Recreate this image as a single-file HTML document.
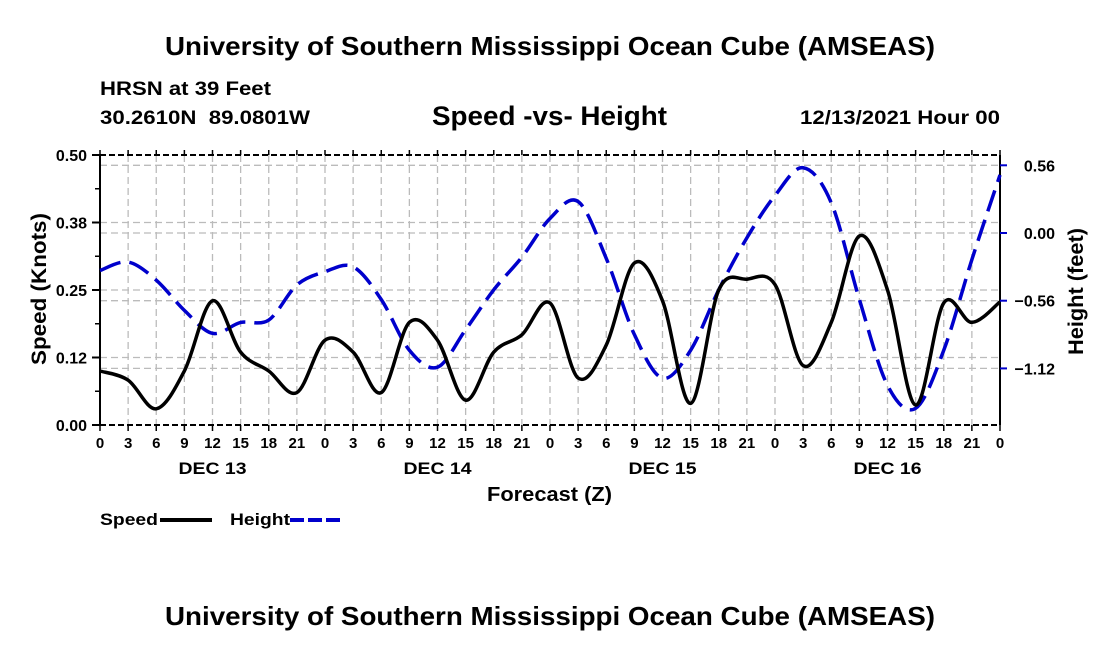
<!DOCTYPE html>
<html><head><meta charset="utf-8"><style>
body{margin:0;background:#fff;font-family:"Liberation Sans",Arial,sans-serif;}
svg text{font-family:"Liberation Sans",Arial,sans-serif;font-weight:bold;fill:#000;}
</style></head><body>
<svg id="chart" width="1100" height="650" viewBox="0 0 1100 650">
<text x="165" y="55" font-size="26" textLength="770" lengthAdjust="spacingAndGlyphs">University of Southern Mississippi Ocean Cube (AMSEAS)</text>
<text x="100" y="95" font-size="19" textLength="171" lengthAdjust="spacingAndGlyphs">HRSN at 39 Feet</text>
<text x="100" y="124" font-size="19" textLength="210" lengthAdjust="spacingAndGlyphs" xml:space="preserve">30.2610N  89.0801W</text>
<text x="432" y="125" font-size="27" textLength="235" lengthAdjust="spacingAndGlyphs">Speed -vs- Height</text>
<text x="800" y="124" font-size="19" textLength="200" lengthAdjust="spacingAndGlyphs">12/13/2021 Hour 00</text>
<g id="grid"></g>
<g id="axes"></g>
<g id="series"></g>
<text x="487" y="501" font-size="20" textLength="125" lengthAdjust="spacingAndGlyphs">Forecast (Z)</text>
<text transform="translate(46,365) rotate(-90)" font-size="21" textLength="152" lengthAdjust="spacingAndGlyphs">Speed (Knots)</text>
<text transform="translate(1083,355) rotate(-90)" font-size="21" textLength="127" lengthAdjust="spacingAndGlyphs">Height (feet)</text>
<g>
<text x="100" y="525" font-size="17" textLength="58" lengthAdjust="spacingAndGlyphs">Speed</text>
<line x1="160" y1="520" x2="212" y2="520" stroke="#000" stroke-width="4"/>
</g>
<g>
<text x="230" y="525" font-size="17" textLength="60" lengthAdjust="spacingAndGlyphs">Height</text>
<line x1="290" y1="520" x2="342" y2="520" stroke="#0000cc" stroke-width="4" stroke-dasharray="14,4"/>
</g>
<text x="165" y="625" font-size="26" textLength="770" lengthAdjust="spacingAndGlyphs">University of Southern Mississippi Ocean Cube (AMSEAS)</text>
</svg>
<script>
const hours=[0,3,6,9,12,15,18,21,24,27,30,33,36,39,42,45,48,51,54,57,60,63,66,69,72,75,78,81,84,87,90,93,96];
const speed=[0.10,0.083,0.03,0.10,0.23,0.135,0.10,0.06,0.157,0.135,0.06,0.19,0.157,0.046,0.135,0.167,0.226,0.087,0.148,0.30,0.23,0.04,0.25,0.27,0.26,0.11,0.19,0.35,0.25,0.037,0.226,0.19,0.228];
const height=[-0.31,-0.24,-0.39,-0.64,-0.83,-0.74,-0.72,-0.43,-0.32,-0.28,-0.55,-0.97,-1.11,-0.80,-0.47,-0.20,0.12,0.26,-0.21,-0.84,-1.20,-0.97,-0.47,-0.04,0.31,0.54,0.25,-0.55,-1.26,-1.45,-0.97,-0.22,0.48];
const leftTicks=[0,0.125,0.25,0.375,0.5];
const leftLabels=["0.00","0.12","0.25","0.38","0.50"];
const rightTicks=[0.56,0,-0.56,-1.12];
const rightLabels=["0.56","0.00","\u22120.56","\u22121.12"];
const dayLabels=["DEC 13","DEC 14","DEC 15","DEC 16"];
const dayCenters=[12,36,60,84];

const X0=100,X1=1000,Y0=425,Y1=155;
const xs=h=>X0+(h/96)*(X1-X0);
const ys=v=>Y0-(v/0.5)*(Y0-Y1);
const yh=v=>233-v*120.9;
const NS="http://www.w3.org/2000/svg";
function mk(tag,attrs,parent){const e=document.createElementNS(NS,tag);for(const k in attrs)e.setAttribute(k,attrs[k]);parent.appendChild(e);return e;}
const grid=document.getElementById('grid'),axes=document.getElementById('axes'),series=document.getElementById('series');
const gs={stroke:"#bbb","stroke-width":1.3,"stroke-dasharray":"7,4"};
hours.forEach(h=>{if(h>0&&h<96){const l=mk('line',Object.assign({x1:xs(h),x2:xs(h),y1:Y1,y2:Y0},gs),grid);

}});
leftTicks.forEach(v=>{if(v>0&&v<0.5){const l=mk('line',Object.assign({x1:X0,x2:X1,y1:ys(v),y2:ys(v)},gs),grid);

}});
rightTicks.forEach(v=>{const l=mk('line',Object.assign({x1:X0,x2:X1,y1:yh(v),y2:yh(v)},gs),grid);

});
mk('line',{x1:X0,x2:X0,y1:Y1,y2:Y0,stroke:"#000","stroke-width":2},axes);
mk('line',{x1:X1,x2:X1,y1:Y1,y2:Y0,stroke:"#000","stroke-width":2},axes);
mk('line',{x1:X0,x2:X1,y1:Y0,y2:Y0,stroke:"#000","stroke-width":2,"stroke-dasharray":"6,3"},axes);
mk('line',{x1:X0,x2:X1,y1:Y1,y2:Y1,stroke:"#000","stroke-width":2,"stroke-dasharray":"6,3"},axes);
hours.forEach(h=>{mk('line',{x1:xs(h),x2:xs(h),y1:Y0,y2:Y0+6,stroke:"#000","stroke-width":1.5},axes);
mk('line',{x1:xs(h),x2:xs(h),y1:Y1,y2:Y1-5,stroke:"#000","stroke-width":1.5},axes);
const t=mk('text',{x:xs(h),y:Y0+23,"font-size":15,"text-anchor":"middle"},axes);t.textContent=String(h%24);

});
dayLabels.forEach((d,i)=>{const t=mk('text',{x:xs(dayCenters[i]),y:Y0+49,"font-size":17,"text-anchor":"middle",textLength:68,lengthAdjust:"spacingAndGlyphs"},axes);t.textContent=d;

});
leftTicks.forEach((v,i)=>{mk('line',{x1:X0-8,x2:X0,y1:ys(v),y2:ys(v),stroke:"#000","stroke-width":2},axes);
const t=mk('text',{x:X0-13,y:ys(v)+6,"font-size":16,"text-anchor":"end"},axes);t.textContent=leftLabels[i];


if(i<4)mk('line',{x1:X0-5,x2:X0,y1:ys(v+0.0625),y2:ys(v+0.0625),stroke:"#000","stroke-width":1.5},axes);});
rightTicks.forEach((v,i)=>{mk('line',{x1:X1,x2:X1+7,y1:yh(v),y2:yh(v),stroke:"#0000cc","stroke-width":2},axes);
const t=mk('text',{x:1055,y:yh(v)+6,"font-size":16,"text-anchor":"end"},axes);t.textContent=rightLabels[i];

});
function path(pts){let d=`M${pts[0][0]},${pts[0][1]}`;for(let i=0;i<pts.length-1;i++){const p0=pts[Math.max(0,i-1)],p1=pts[i],p2=pts[i+1],p3=pts[Math.min(pts.length-1,i+2)];
d+=` C${p1[0]+(p2[0]-p0[0])/6},${p1[1]+(p2[1]-p0[1])/6} ${p2[0]-(p3[0]-p1[0])/6},${p2[1]-(p3[1]-p1[1])/6} ${p2[0]},${p2[1]}`;}return d;}
const hp=mk('path',{d:path(hours.map((h,i)=>[xs(h),yh(height[i])])),fill:"none",stroke:"#0000cc","stroke-width":3.5,"stroke-dasharray":"22,9"},series);


const sp=mk('path',{d:path(hours.map((h,i)=>[xs(h),ys(speed[i])])),fill:"none",stroke:"#000","stroke-width":3.5},series);


</script>
</body></html>
